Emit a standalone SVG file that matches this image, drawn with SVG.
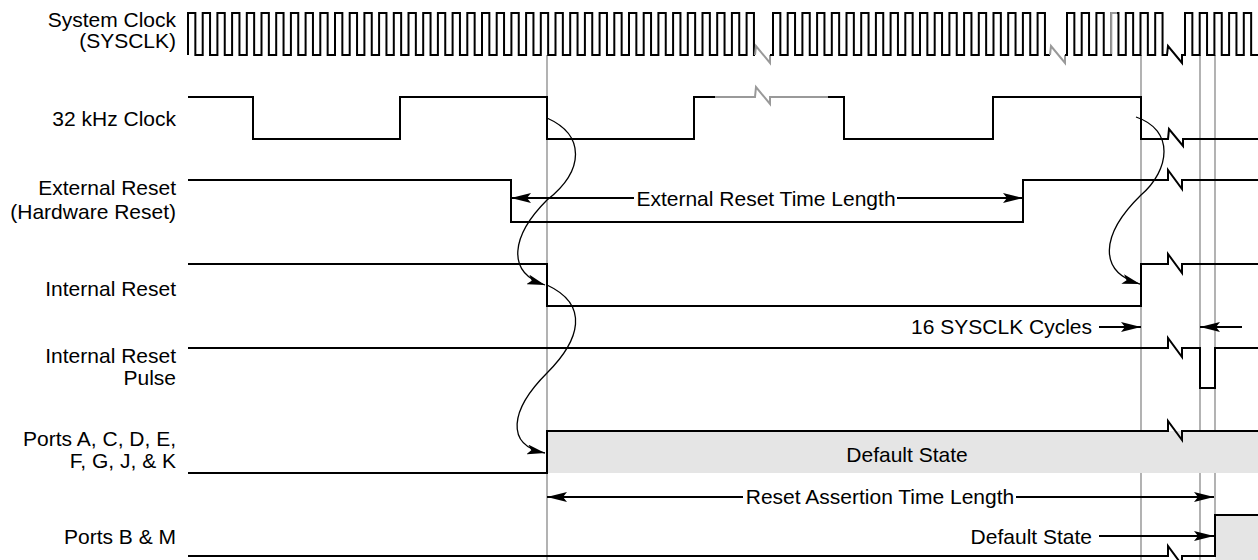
<svg xmlns="http://www.w3.org/2000/svg" width="1258" height="560" viewBox="0 0 1258 560">
<style>
.sig{fill:none;stroke:#000;stroke-width:2;stroke-linejoin:miter}
.gsig{fill:none;stroke:#999;stroke-width:2}
.grid{fill:none;stroke:#a0a0a0;stroke-width:1.6}
.fill{fill:#e5e5e5;stroke:none}
.arr{fill:none;stroke:#000;stroke-width:2}
.curve{fill:none;stroke:#000;stroke-width:1.3}
.lbl{font-family:"Liberation Sans",Arial,sans-serif;font-size:21px;fill:#000}
.r{text-anchor:end}
.m{text-anchor:middle}
</style>
<defs>
<marker id="ah" markerUnits="userSpaceOnUse" markerWidth="20" markerHeight="10" refX="20" refY="5" orient="auto">
<path d="M0,0 L20,5 L0,10 L4,5 z" fill="#000"/>
</marker>
<marker id="ahc" markerUnits="userSpaceOnUse" markerWidth="18" markerHeight="10" refX="18" refY="5" orient="auto">
<path d="M0,0 L18,5 L0,10 L4,5 z" fill="#000"/>
</marker>
</defs>

<g id="gridlines">
<path class="grid" d="M547,55 V560 M1141,55 V560 M1200,55 V560 M1215,55 V515"/>
</g>

<g id="sysclk">
<text class="lbl r" x="176" y="27">System Clock</text>
<text class="lbl r" x="176" y="48">(SYSCLK)</text>
<path class="sig" d="M188,55 v-42 h7.35 v42 h7.35 v-42 h7.35 v42 h7.35 v-42 h7.35 v42 h7.35 v-42 h7.35 v42 h7.35 v-42 h7.35 v42 h7.35 v-42 h7.35 v42 h7.35 v-42 h7.35 v42 h7.35 v-42 h7.35 v42 h7.35 v-42 h7.35 v42 h7.35 v-42 h7.35 v42 h7.35 v-42 h7.35 v42 h7.35 v-42 h7.35 v42 h7.35 v-42 h7.35 v42 h7.35 v-42 h7.35 v42 h7.35 v-42 h7.35 v42 h7.35 v-42 h7.35 v42 h7.35 v-42 h7.35 v42 h7.35 v-42 h7.35 v42 h7.35 v-42 h7.35 v42 h7.35 v-42 h7.35 v42 h7.35 v-42 h7.35 v42 h7.35 v-42 h7.35 v42 h7.35 v-42 h7.35 v42 h7.35 v-42 h7.35 v42 h7.35 v-42 h7.35 v42 h7.35 v-42 h7.35 v42 h7.35 v-42 h7.35 v42 h7.35 v-42 h7.35 v42 h7.35 v-42 h7.35 v42 h7.35 v-42 h7.35 v42 h7.35 v-42 h7.35 v42 h7.35 v-42 h7.35 v42 h7.35 v-42 h7.35 v42 h7.35 v-42 h7.35 v42 h7.35 v-42 h7.35 v42 h7.35 v-42 h7.35 v42 h7.35 v-42 h7.35 v42 h7.35 v-42 h7.35 v42 h7.35 v-42 h7.35 v42 H755"/>
<path class="gsig" stroke-width="1.6" d="M755,55 l1,-9 l14,17 l0,-8"/>
<path class="sig" d="M770,55 H773 v-42 h7.35 v42 h7.35 v-42 h7.35 v42 h7.35 v-42 h7.35 v42 h7.35 v-42 h7.35 v42 h7.35 v-42 h7.35 v42 h7.35 v-42 h7.35 v42 h7.35 v-42 h7.35 v42 h7.35 v-42 h7.35 v42 h7.35 v-42 h7.35 v42 h7.35 v-42 h7.35 v42 h7.35 v-42 h7.35 v42 h7.35 v-42 h7.35 v42 h7.35 v-42 h7.35 v42 h7.35 v-42 h7.35 v42 h7.35 v-42 h7.35 v42 h7.35 v-42 h7.35 v42 h7.35 v-42 h7.35 v42 h7.35 v-42 h7.35 v42 h7.35 v-42 h7.35 v42 H1050"/>
<path class="gsig" stroke-width="1.6" d="M1050,55 l1,-9 l14,17 l0,-8"/>
<path class="sig" d="M1065,55 H1067 v-42 h7.35 v42 h7.35 v-42 h7.35 v42 h7.35 v-42 h7.35 v42 h7.35 v-42 h7.35 v42 h7.35 v-42 h7.35 v42 h7.35 v-42 h7.35 v42 h7.35 v-42 h7.35 v42 H1167 l1,-9 l14,17 l0,-8 H1185 v-42 h7.35 v42 h7.35 v-42 h7.35 v42 h7.35 v-42 h7.35 v42 h7.35 v-42 h7.35 v42 h7.35 v-42 h7.35 v42 H1258"/>
<path class="gsig" stroke-width="1.6" d="M1111.1,54 V13 H1117"/>
</g>

<g id="clk32k">
<text class="lbl r" x="176" y="126">32 kHz Clock</text>
<path class="sig" d="M188,97 H253 V139 H400 V97 H547 V139 H694 V97 H715"/>
<path class="gsig" d="M715,97 H755 l1,-10 l14,17 l0,-7 H829"/>
<path class="sig" d="M828,97 H844 V139 H993 V97 H1141 V139 H1168 l1,-10 l14,17 l0,-7 H1258"/>
</g>

<g id="extreset">
<text class="lbl r" x="176" y="195">External Reset</text>
<text class="lbl r" x="176" y="219">(Hardware Reset)</text>
<path class="sig" d="M188,180 H511 V222 H1023 V180 H1168 l0,-10 l14,19 l0,-9 H1258"/>
</g>

<g id="intreset">
<text class="lbl r" x="176" y="296">Internal Reset</text>
<path class="sig" d="M188,264 H547 V306 H1141 V264 H1168 l0,-10 l14,19 l0,-9 H1258"/>
</g>

<g id="intresetpulse">
<text class="lbl r" x="176" y="363">Internal Reset</text>
<text class="lbl r" x="176" y="385">Pulse</text>
<path class="sig" d="M188,348 H1168 l0,-10 l14,19 l0,-9 H1200 V388 H1215 V348 H1258"/>
</g>

<g id="portsA">
<text class="lbl r" x="176" y="446">Ports A, C, D, E,</text>
<text class="lbl r" x="176" y="468">F, G, J, &amp; K</text>
<rect class="fill" x="547" y="431" width="711" height="42"/>
<path class="sig" d="M188,473 H547 V431 H1168 l0,-10 l14,19 l0,-9 H1258"/>
<text class="lbl m" x="907" y="462">Default State</text>
</g>

<g id="portsB">
<text class="lbl r" x="176" y="544">Ports B &amp; M</text>
<rect class="fill" x="1215" y="515" width="43" height="45"/>
<path class="sig" d="M188,556 H1168 l0,-10 l14,19 l0,-9 H1215 V515 H1258"/>
</g>

<g id="connectors">
<path class="curve" marker-end="url(#ahc)" d="M547,118 C585,135 585,170 547,200 C512,235 505,272 545,285"/>
<path class="curve" marker-end="url(#ahc)" d="M547,285 C590,305 580,340 547,373 C510,410 505,445 545,453"/>
<path class="curve" marker-end="url(#ahc)" d="M1136,117 C1175,130 1170,170 1141,195 C1100,235 1098,272 1140,284"/>
<path class="arr" marker-end="url(#ah)" d="M634,198 H511"/>
<path class="arr" marker-end="url(#ah)" d="M897,198 H1023"/>
<path class="arr" marker-end="url(#ah)" d="M1099,327 H1141"/>
<path class="arr" marker-end="url(#ah)" d="M1242,327 H1200"/>
<path class="arr" marker-end="url(#ah)" d="M743,497 H547"/>
<path class="arr" marker-end="url(#ah)" d="M1016,497 H1214"/>
<path class="arr" marker-end="url(#ah)" d="M1099,536 H1214"/>
</g>

<g id="annotations">
<text class="lbl m" x="766" y="206">External Reset Time Length</text>
<text class="lbl r" x="1092" y="334">16 SYSCLK Cycles</text>
<text class="lbl m" x="880" y="504">Reset Assertion Time Length</text>
<text class="lbl r" x="1092" y="544">Default State</text>
</g>
</svg>
